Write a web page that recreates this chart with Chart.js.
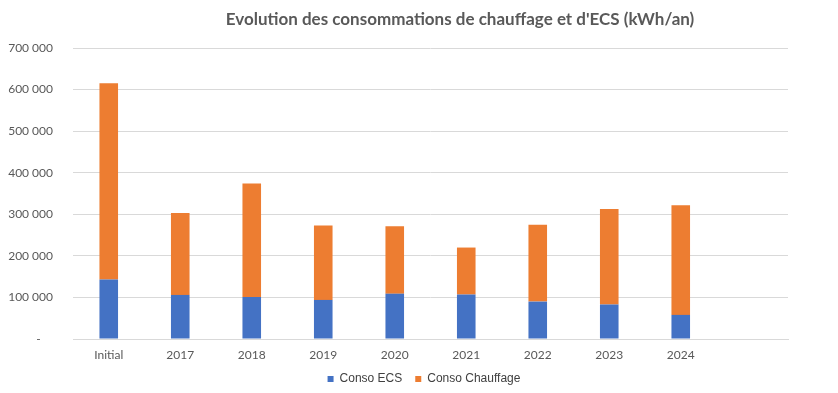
<!DOCTYPE html>
<html><head><meta charset="utf-8">
<script src="https://cdn.jsdelivr.net/npm/chart.js@4.4.1/dist/chart.umd.min.js"></script>
<style>html,body{margin:0;padding:0;background:#fff}#wrap{width:838px;height:393px;position:relative}</style>
</head><body><div id="wrap"><canvas id="c" width="838" height="393"></canvas></div>
<script>
const TITLE = "Evolution des consommations de chauffage et d'ECS (kWh/an)";
const categories = ["Initial","2017","2018","2019","2020","2021","2022","2023","2024",""];
const consoECS = [143000,106000,101000,94000,109000,107000,90000,83000,58000,null];
const consoChauffage = [472000,197000,273000,179000,162000,113000,185000,230000,264000,null];
const yTicks = [0,100000,200000,300000,400000,500000,600000,700000];

const fmt = v => v === 0 ? "-    " : String(v).replace(/\B(?=(\d{3})+(?!\d))/g, " ");

const layoutPlugin = {
  id: 'layoutTweaks',
  beforeLayout(chart) {
    const lg = chart.legend;
    if (lg && !lg._patched) {
      const orig = lg.fit;
      lg.fit = function () { orig.call(this); this.height = 30; };
      lg._patched = true;
    }
  },
  afterLayout(chart) {
    const lg = chart.legend;
    const dx = 30, h = lg.bottom - lg.top;
    lg.left += dx; lg.right += dx;
    lg.top = 360; lg.bottom = lg.top + h;
  },
  afterDraw(chart) {
    const ctx = chart.ctx;
    ctx.save();
    ctx.font = "bold 17px Lato, 'Open Sans', sans-serif";
    ctx.fillStyle = "#595959";
    ctx.textAlign = "center";
    ctx.textBaseline = "middle";
    ctx.fillText(TITLE, 460, 20);
    ctx.restore();
  }
};

new Chart(document.getElementById('c'), {
  type: 'bar',
  data: {
    labels: categories,
    datasets: [
      { label: 'Conso ECS', data: consoECS, backgroundColor: '#4472C4', barPercentage: 0.26, categoryPercentage: 1 },
      { label: 'Conso Chauffage', data: consoChauffage, backgroundColor: '#ED7D31', barPercentage: 0.26, categoryPercentage: 1 }
    ]
  },
  options: {
    responsive: false,
    animation: false,
    layout: { padding: { top: 48, right: 50, left: 0, bottom: 0 } },
    plugins: {
      title: { display: false },
      tooltip: { enabled: false },
      legend: {
        position: 'bottom',
        labels: { boxWidth: 6, boxHeight: 6, padding: 13, color: '#404040',
          font: { family: "'Liberation Sans Narrow', 'Liberation Sans', Arial, sans-serif", size: 12 } }
      }
    },
    scales: {
      x: {
        stacked: true,
        grid: { display: false, drawTicks: false },
        border: { display: true, color: '#d9d9d9', width: 1 },
        ticks: { color: '#595959', padding: 9, font: { family: "Lato, 'Open Sans', sans-serif", size: 12 } },
        afterFit(s) { s.height = 24; }
      },
      y: {
        stacked: true,
        min: 0, max: 700000,
        afterBuildTicks(s) { s.ticks = yTicks.map(v => ({ value: v })); },
        grid: { color: '#d9d9d9', lineWidth: 1, drawTicks: false },
        border: { display: false },
        ticks: { color: '#595959', padding: 20, callback: v => fmt(v),
          font: { family: "Lato, 'Open Sans', sans-serif", size: 12 } },
        afterFit(s) { s.width = 73; }
      }
    }
  },
  plugins: [layoutPlugin]
});
</script></body></html>
